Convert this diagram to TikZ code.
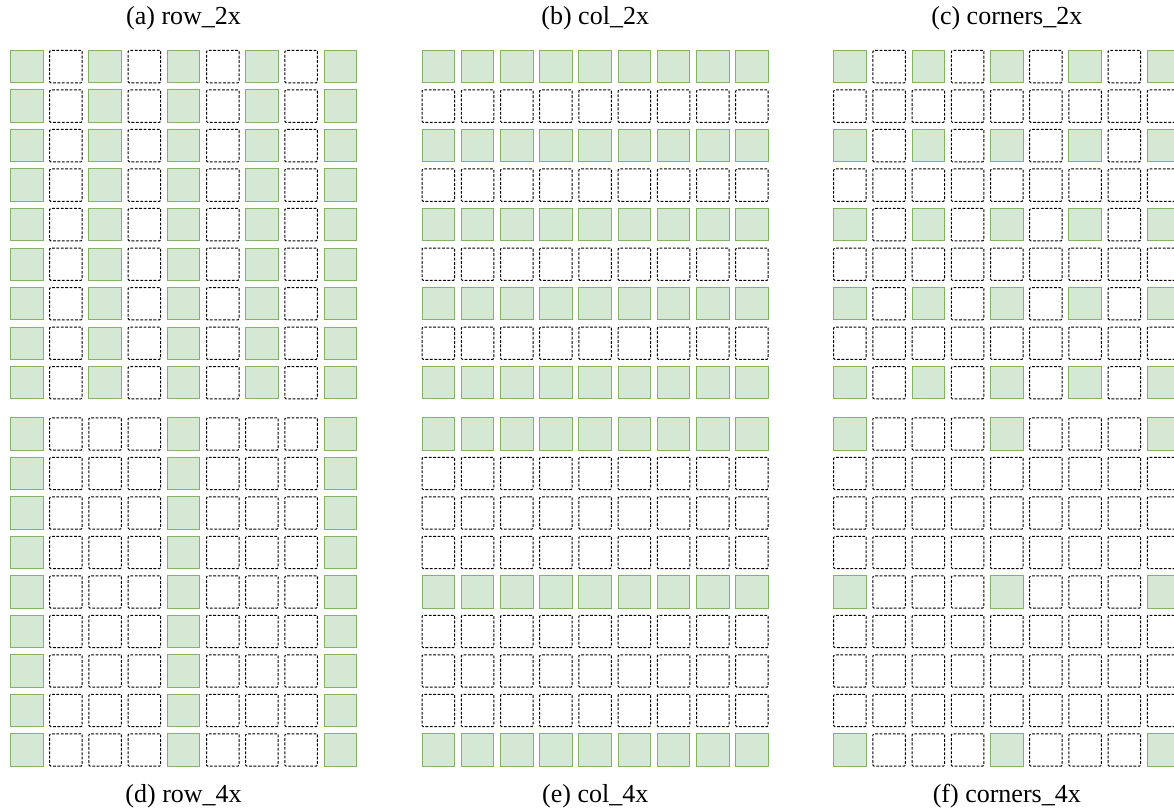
\documentclass[tikz,border=0pt]{standalone}
\usepackage{fontspec}
\setmainfont{Liberation Serif}
\usetikzlibrary{positioning}
\definecolor{cellfill}{HTML}{D5E8D4}
\definecolor{celldraw}{HTML}{82B366}
\tikzset{
  cell/.style={minimum width=32.5pt,minimum height=32.3pt,inner sep=0pt,line width=1pt},
  hit/.style={cell,draw=celldraw,fill=cellfill},          % kept cell: green
  idle/.style={cell,draw=black,dash pattern=on 2.8pt off 1.6pt,rounded corners=1pt},
  lbl/.style={font=\fontsize{26}{30}\selectfont,anchor=base,inner sep=0pt}
}

\begin{document}
\begin{tikzpicture}[x=1pt,y=-1pt]
  \useasboundingbox (0,0) rectangle (1174,810);
  % panel / caption / origin x / origin y / caption baseline / row step / col step
  \foreach \p/\txt/\gx/\gy/\ty/\rk/\ck in {
      a/row\_2x/10/50/25/1/2,
      b/col\_2x/421.6/50/25/2/1,
      c/corners\_2x/833.2/50/25/2/2,
      d/row\_4x/10/417.3/802/1/4,
      e/col\_4x/421.6/417.3/802/4/1,
      f/corners\_4x/833.2/417.3/802/4/4}{
    \foreach \i in {0,...,8}{
      \foreach \j in {0,...,8}{
        \pgfmathtruncatemacro\on{and(mod(\i,\rk)==0,mod(\j,\ck)==0)}
        \ifnum\on=1
          \node[hit] (\p-\i-\j) at ({\gx+\j*39.2+16.75},{\gy+\i*39.5+16.65}) {};
        \else
          \node[idle] (\p-\i-\j) at ({\gx+\j*39.2+16.75},{\gy+\i*39.5+16.65}) {};
        \fi
      }
    }
    \node[lbl] (\p-lbl) at ({\gx+173.6},\ty) {(\p) \txt};
  }
\end{tikzpicture}
\end{document}
